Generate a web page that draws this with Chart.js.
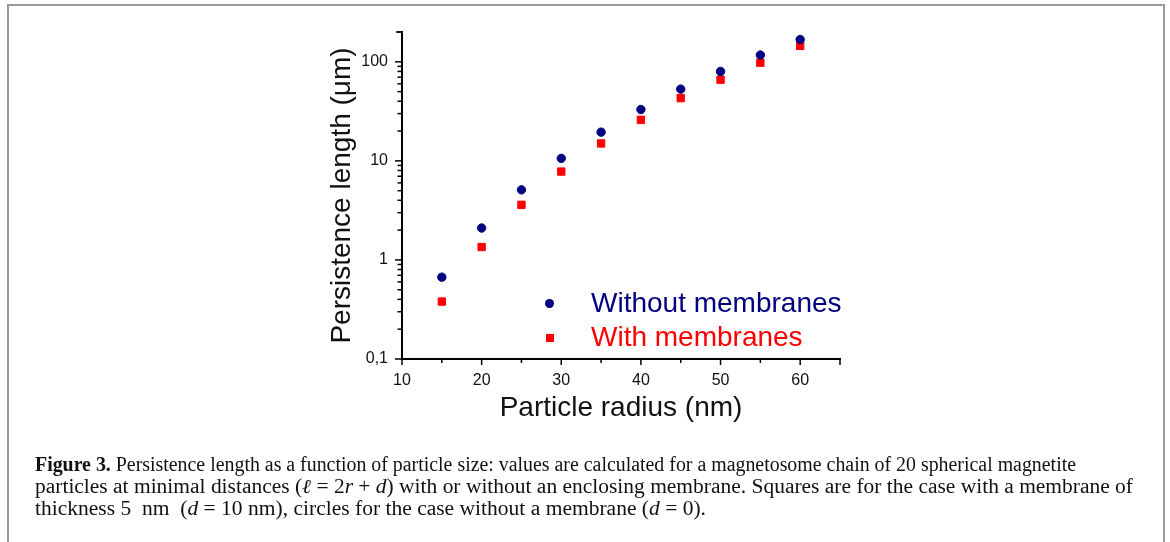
<!DOCTYPE html>
<html>
<head>
<meta charset="utf-8">
<script src="https://cdn.jsdelivr.net/npm/chart.js@4"></script>
<style>
  html, body { margin: 0; padding: 0; background: #fff; }
  #wrap { position: relative; width: 1170px; height: 542px; overflow: hidden; }
  #frame { position: absolute; left: 7px; top: 4px; width: 1158px; height: 600px; border: 2px solid #9a9a9a; box-sizing: border-box; }
  #c { position: absolute; left: 0; top: 0; }
  .leg { position: absolute; font-family: "Liberation Sans", Arial, sans-serif; font-size: 28px; line-height: 1; white-space: nowrap; }
  .mk { position: absolute; }
  .cap { position: absolute; left: 35px; font-family: "Liberation Serif", "Times New Roman", serif; font-size: 20px; line-height: 1; white-space: nowrap; color: #111; transform-origin: 0 0; }
  .cap i { font-style: italic; }
</style>
</head>
<body>
<div id="wrap">
  <div id="frame"></div>
  <canvas id="c" width="1170" height="542"></canvas>
  <div class="mk" style="left:544.5px; top:298.5px; width:9px; height:9px; border-radius:50%; background:#000080;"></div>
  <div class="leg" style="left:591px; top:289px; color:#000080;">Without membranes</div>
  <div class="mk" style="left:546px; top:334px; width:8px; height:8px; background:#ff0000;"></div>
  <div class="leg" style="left:591px; top:323px; color:#ff0000;">With membranes</div>
  <div class="cap" id="cap1" data-w="1041" style="top:454px;"><b>Figure 3.</b> Persistence length as a function of particle size: values are calculated for a magnetosome chain of 20 spherical magnetite</div>
  <div class="cap" id="cap2" data-w="1098" style="top:476px;">particles at minimal distances (<i>ℓ</i> = 2<i>r</i> + <i>d</i>) with or without an enclosing membrane. Squares are for the case with a membrane of</div>
  <div class="cap" id="cap3" data-w="671" style="top:498px;">thickness 5&nbsp; nm&nbsp; (<i>d</i> = 10 nm), circles for the case without a membrane (<i>d</i> = 0).</div>
</div>
<script>
// ---- data ----
const radii = [15, 20, 25, 30, 35, 40, 45, 50, 55, 60];
const withoutMembranes = [0.67, 2.1, 5.1, 10.6, 19.5, 33, 53, 80, 117, 168];
const withMembranes = [0.38, 1.35, 3.6, 7.8, 15, 26, 43, 66, 98, 145];
const xTickValues = [10, 20, 30, 40, 50, 60];
const yTickLabels = { 0.1: '0,1', 1: '1', 10: '10', 100: '100' };

// caption width fit
document.querySelectorAll('.cap').forEach(el => {
  const w = el.getBoundingClientRect().width;
  const target = +el.dataset.w;
  el.style.transform = 'scaleX(' + (target / w) + ')';
});

const tickPlugin = {
  id: 'manualTicks',
  afterDraw(chart) {
    const ctx = chart.ctx;
    const xs = chart.scales.x, ys = chart.scales.y;
    ctx.save();
    ctx.strokeStyle = '#000';
    ctx.lineWidth = 1.5;
    const yAxisX = xs.left, xAxisY = ys.bottom;
    for (let v = 10; v <= 65; v += 5) {
      const px = xs.getPixelForValue(v);
      const len = (v % 10 === 0 || v === 65) ? 6 : 4;
      ctx.beginPath(); ctx.moveTo(px, xAxisY); ctx.lineTo(px, xAxisY + len); ctx.stroke();
    }
    [0.1, 1, 10, 100].forEach(d => {
      for (let k = 1; k <= 9; k++) {
        const v = k * d;
        if (v > 200.0001) continue;
        const py = ys.getPixelForValue(v);
        const len = k === 1 ? 7 : 4.5;
        ctx.beginPath(); ctx.moveTo(yAxisX, py); ctx.lineTo(yAxisX - len, py); ctx.stroke();
      }
    });
    const pTop = ys.getPixelForValue(200);
    ctx.beginPath(); ctx.moveTo(yAxisX, pTop); ctx.lineTo(yAxisX - 6, pTop); ctx.stroke();
    ctx.restore();
  }
};

Chart.defaults.font.family = '"Liberation Sans", Arial, sans-serif';
Chart.defaults.color = '#111';

new Chart(document.getElementById('c'), {
  type: 'scatter',
  data: {
    datasets: [
      {
        label: 'Without membranes',
        data: radii.map((r, i) => ({ x: r, y: withoutMembranes[i] })),
        pointStyle: 'circle', pointRadius: 4.2, pointBorderWidth: 1,
        backgroundColor: '#000080', borderColor: '#000080'
      },
      {
        label: 'With membranes',
        data: radii.map((r, i) => ({ x: r, y: withMembranes[i] })),
        pointStyle: 'rect', pointRadius: 5.2, pointBorderWidth: 1,
        backgroundColor: '#ff0000', borderColor: '#ff0000'
      }
    ]
  },
  options: {
    responsive: false,
    animation: false,
    events: [],
    devicePixelRatio: 1,
    layout: { padding: { left: 325, top: 32, right: 330, bottom: 117 } },
    plugins: { legend: { display: false }, tooltip: { enabled: false } },
    scales: {
      x: {
        type: 'linear', min: 10, max: 65,
        afterBuildTicks: s => { s.ticks = xTickValues.map(v => ({ value: v })); },
        afterFit: s => { s.height = 66; },
        grid: { display: false },
        border: { display: true, color: '#000', width: 2 },
        ticks: { autoSkip: false, maxRotation: 0, padding: 4, font: { size: 16 }, color: '#111' },
        title: { display: true, text: 'Particle radius (nm)', font: { size: 28 }, color: '#111', padding: 0 }
      },
      y: {
        type: 'logarithmic', min: 0.1, max: 200,
        afterBuildTicks: s => { s.ticks = Object.keys(yTickLabels).map(v => ({ value: +v })); },
        afterFit: s => { s.width = 77; },
        grid: { display: false },
        border: { display: true, color: '#000', width: 2 },
        ticks: { autoSkip: false, padding: 6, font: { size: 16 }, color: '#111',
          callback: v => yTickLabels[v] !== undefined ? yTickLabels[v] : '' },
        title: { display: true, text: 'Persistence length (μm)', font: { size: 28 }, color: '#111', padding: 0 }
      }
    }
  },
  plugins: [tickPlugin]
});
</script>
</body>
</html>
